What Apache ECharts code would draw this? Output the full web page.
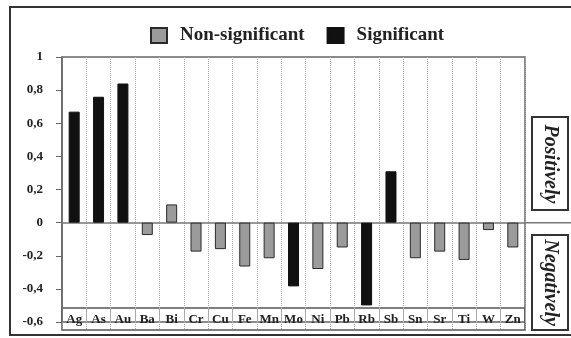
<!DOCTYPE html>
<html><head><meta charset="utf-8">
<script src="https://cdn.jsdelivr.net/npm/echarts@6/dist/echarts.min.js"></script>
<style>html,body{margin:0;padding:0;background:#fff}#c{width:571px;height:338px}</style>
</head><body><div id="c"></div>
<script>
var categories = ['Ag','As','Au','Ba','Bi','Cr','Cu','Fe','Mn','Mo','Ni','Pb','Rb','Sb','Sn','Sr','Ti','W','Zn'];
var nonSignificant = [null,null,null,-0.075,0.11,-0.175,-0.16,-0.265,-0.215,null,-0.28,-0.15,null,null,-0.215,-0.175,-0.225,-0.045,-0.15];
var significant = [0.67,0.76,0.84,null,null,null,null,null,null,-0.385,null,null,-0.5,0.31,null,null,null,null,null];
var yTicks = {min:-0.6, max:1, interval:0.2};
var legendNames = ['Non-significant','Significant'];
var sideLabels = ['Positively','Negatively'];

var FONT = '"Liberation Serif", "Times New Roman", serif';
var chart = echarts.init(document.getElementById('c'));
var option = {
  backgroundColor:'#fff',
  animation:false,
  legend:{
    left:145, top:21, itemWidth:16, itemHeight:15, itemGap:22, icon:'rect',
    textStyle:{fontFamily:FONT, fontWeight:'bold', fontSize:19, color:'#222', padding:[0,0,0,8]},
    data:legendNames
  },
  grid:[
    {left:62, right:46, top:57, bottom:16, show:true, borderColor:'#666', borderWidth:1.5, backgroundColor:'transparent'},
    {left:62, right:46, top:308, bottom:8, show:true, borderColor:'#555', borderWidth:1.5}
  ],
  xAxis:[
    {type:'category', gridIndex:0, data:categories,
     axisLine:{onZero:true, lineStyle:{color:'#777', width:1.5}},
     axisTick:{show:false, interval:0}, axisLabel:{show:false, interval:0},
     splitLine:{show:true, interval:0, lineStyle:{type:'dotted', color:'#aaa', width:1}}},
    {type:'category', gridIndex:1, data:categories,
     axisLine:{show:false}, axisTick:{show:false, interval:0},
     axisLabel:{interval:0, margin:-10, verticalAlign:'middle', fontFamily:FONT, fontWeight:'bold', fontSize:13, color:'#222'},
     splitLine:{show:true, interval:0, lineStyle:{type:'dotted', color:'#aaa', width:1}}}
  ],
  yAxis:[
    {type:'value', gridIndex:0, min:yTicks.min, max:yTicks.max, interval:yTicks.interval,
     axisLine:{show:true, lineStyle:{color:'#666', width:1.5}},
     axisTick:{show:true, length:6, lineStyle:{color:'#666'}},
     splitLine:{show:false},
     axisLabel:{margin:19, fontFamily:FONT, fontWeight:'bold', fontSize:13, color:'#222',
       formatter:function(v){return String(Math.round(v*10)/10).replace('.',',');}}},
    {type:'value', gridIndex:1, min:0, max:1, show:false}
  ],
  series:[
    {name:legendNames[0], type:'bar', xAxisIndex:0, yAxisIndex:0, data:nonSignificant, barWidth:11, barGap:'-100%',
     itemStyle:{color:'#9b9b9b', borderColor:'#2a2a2a', borderWidth:1}},
    {name:legendNames[1], type:'bar', xAxisIndex:0, yAxisIndex:0, data:significant, barWidth:11, barGap:'-100%',
     itemStyle:{color:'#111', borderColor:'#111', borderWidth:1}}
  ]
};
chart.setOption(option);

var p0 = chart.convertToPixel({gridIndex:0}, [0, 0]);
var zeroY = p0[1];
var rightX = 571 - 46;
chart.setOption({
  graphic:[
    {type:'rect', shape:{x:10, y:7, width:600, height:328}, style:{fill:null, stroke:'#333', lineWidth:2}, silent:true},
    {type:'line', shape:{x1:rightX, y1:zeroY, x2:571, y2:zeroY}, style:{stroke:'#777', lineWidth:1.5}},
    {type:'rect', shape:{x:532, y:117, width:36, height:93}, style:{fill:'#fff', stroke:'#333', lineWidth:2}},
    {type:'rect', shape:{x:532, y:235, width:36, height:95}, style:{fill:'#fff', stroke:'#333', lineWidth:2}},
    {type:'text', x:550, y:164, rotation:-Math.PI/2,
     style:{text:sideLabels[0], fontFamily:FONT, fontStyle:'italic', fontWeight:'bold', fontSize:20, fill:'#222', align:'center', verticalAlign:'middle'}},
    {type:'text', x:550, y:282.5, rotation:-Math.PI/2,
     style:{text:sideLabels[1], fontFamily:FONT, fontStyle:'italic', fontWeight:'bold', fontSize:20, fill:'#222', align:'center', verticalAlign:'middle'}}
  ]
});
</script></body></html>
